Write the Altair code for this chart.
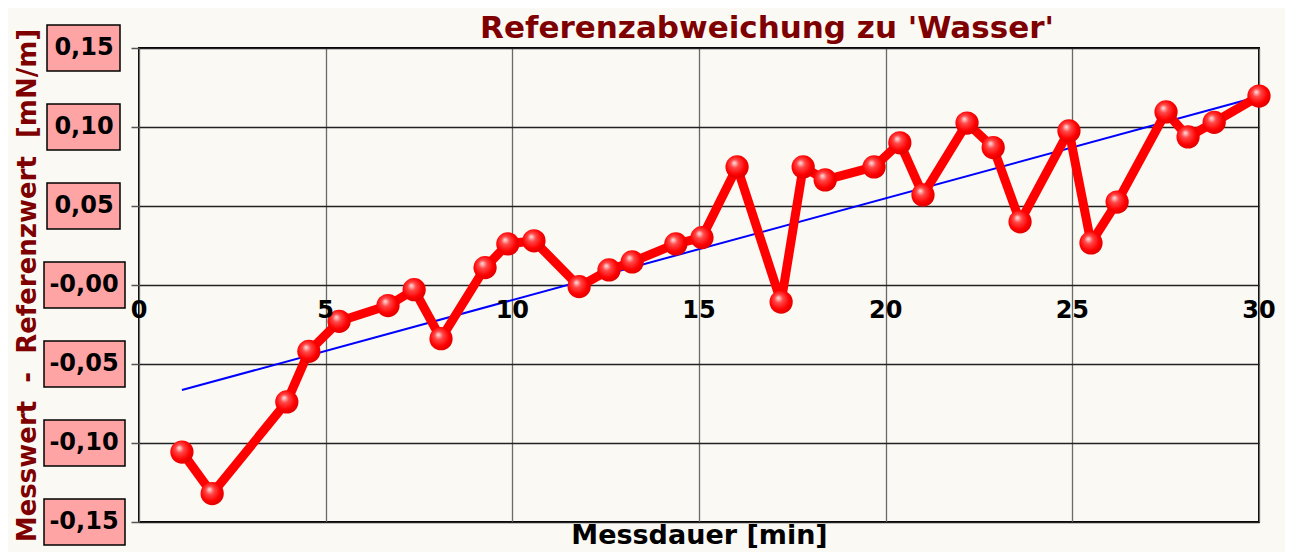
import altair as alt
import pandas as pd

# measured series
time_min = [1.15, 1.96, 3.96, 4.55, 5.36, 6.67, 7.37, 8.09, 9.27, 9.88, 10.58,
            11.79, 12.59, 13.21, 14.38, 15.08, 16.02, 17.20, 17.79, 18.38, 19.69,
            20.38, 21.00, 22.18, 22.88, 23.60, 24.91, 25.50, 26.20, 27.51, 28.10,
            28.80, 30.00]
deviation = [-0.1057, -0.1320, -0.0740, -0.0420, -0.0230, -0.0130, -0.0030, -0.0340,
             0.0110, 0.0260, 0.0280, -0.0010, 0.0095, 0.0146, 0.0260, 0.0300, 0.0747,
             -0.0108, 0.0747, 0.0665, 0.0747, 0.0900, 0.0570, 0.1025, 0.0870, 0.0400,
             0.0975, 0.0266, 0.0525, 0.1095, 0.0937, 0.1030, 0.1196]

# regression line
trend_x = [1.15, 30.0]
trend_y = [-0.0665, 0.1193]

# axes
x_ticks = [0, 5, 10, 15, 20, 25, 30]
y_tick_values = [0.15, 0.10, 0.05, 0.0, -0.05, -0.10, -0.15]
y_tick_labels = ["0,15", "0,10", "0,05", "-0,00", "-0,05", "-0,10", "-0,15"]
title_text = ["Referenzabweichung zu 'Wasser'"]
NB = "\u00a0"
y_title = "Messwert" + NB * 2 + "-" + NB * 2 + "Referenzwert" + NB * 2 + "[mN/m]"

FONT = "DejaVu Sans"
BG = "#FAF9F3"
DARKRED = "#7F0000"

pts = pd.DataFrame({"t": time_min, "d": deviation})
trend = pd.DataFrame({"t": trend_x, "d": trend_y})
xt = pd.DataFrame({"t": x_ticks, "lab": [str(v) for v in x_ticks]})
yt = pd.DataFrame({"d": y_tick_values, "lab": y_tick_labels})
tt = pd.DataFrame({"lab": title_text})

x_scale = alt.Scale(domain=[0, 30], nice=False, zero=False)
y_scale = alt.Scale(domain=[-0.15, 0.15], nice=False, zero=False)

x_axis = alt.Axis(values=x_ticks, grid=True, gridColor="#6a6a6a", gridWidth=1.3,
                  labels=False, ticks=False, domain=False,
                  title="Messdauer [min]", titleFont=FONT, titleFontSize=27,
                  titleFontWeight="bold", titleColor="black",
                  titleBaseline="alphabetic", titleY=21)
y_axis = alt.Axis(values=y_tick_values, grid=True, gridColor="#222222", gridWidth=1.3,
                  labels=False, ticks=True, tickSize=8, tickColor="#555555", tickWidth=1.5,
                  domain=False,
                  title=y_title, titleFont=FONT,
                  titleFontSize=26, titleFontWeight="bold", titleColor=DARKRED,
                  titleAngle=-90, titleAlign="center", titleBaseline="alphabetic",
                  titleX=-104, titleY=237)

X = alt.X("t:Q", scale=x_scale, axis=x_axis)
Y = alt.Y("d:Q", scale=y_scale, axis=y_axis)

trend_layer = alt.Chart(trend).mark_line(color="#0000FF", strokeWidth=2).encode(x=X, y=Y)

line_layer = alt.Chart(pts).mark_line(color="#FF0000", strokeWidth=9,
                                      strokeJoin="round").encode(x=X, y=Y)

ball = alt.RadialGradient(
    gradient="radial",
    stops=[alt.GradientStop(color="#FFE4E4", offset=0),
           alt.GradientStop(color="#FF4848", offset=0.3),
           alt.GradientStop(color="#FF0000", offset=0.7),
           alt.GradientStop(color="#D80000", offset=1)],
    x1=0.38, y1=0.32, r1=0, x2=0.45, y2=0.45, r2=0.6,
)
point_layer = alt.Chart(pts).mark_point(filled=True, fill=ball, size=540, opacity=1,
                                        shape="circle", strokeWidth=0).encode(x=X, y=Y)

x_labels = alt.Chart(xt).mark_text(font=FONT, fontSize=24, fontWeight="bold",
                                   color="black", baseline="middle", dy=26).encode(
    x=X,
    y=alt.datum(0, scale=y_scale, axis=y_axis),
    text="lab:N",
)

box_pos = alt.Chart(yt).transform_filter("datum.d >= 0.001").mark_rect(
    height=46, fill="#FFA4A4", stroke="black", strokeWidth=1.5).encode(
    y=Y, x=alt.value(-92), x2=alt.value(-19),
)
box_neg = alt.Chart(yt).transform_filter("datum.d < 0.001").mark_rect(
    height=46, fill="#FFA4A4", stroke="black", strokeWidth=1.5).encode(
    y=Y, x=alt.value(-95), x2=alt.value(-14),
)
y_labels = alt.Chart(yt).mark_text(font=FONT, fontSize=24, fontWeight="bold",
                                   color="black", baseline="middle", align="center").encode(
    y=Y, x=alt.value(-55), text="lab:N",
)

title_layer = alt.Chart(tt).mark_text(font=FONT, fontSize=31, fontWeight="bold",
                                      color=DARKRED, baseline="alphabetic",
                                      align="center").encode(
    x=alt.value(628), y=alt.value(-10), text="lab:N",
)

chart = alt.layer(
    trend_layer, line_layer, point_layer, x_labels, box_pos, box_neg, y_labels, title_layer
).properties(
    width=1120, height=474,
    padding={"left": 131, "top": 40, "right": 26, "bottom": 30},
    autosize=alt.AutoSizeParams(type="none"),
    background=BG,
).configure_view(fill=BG, stroke="black", strokeWidth=2)

chart.save("out.html", embed_options={"renderer": "svg", "actions": False})
